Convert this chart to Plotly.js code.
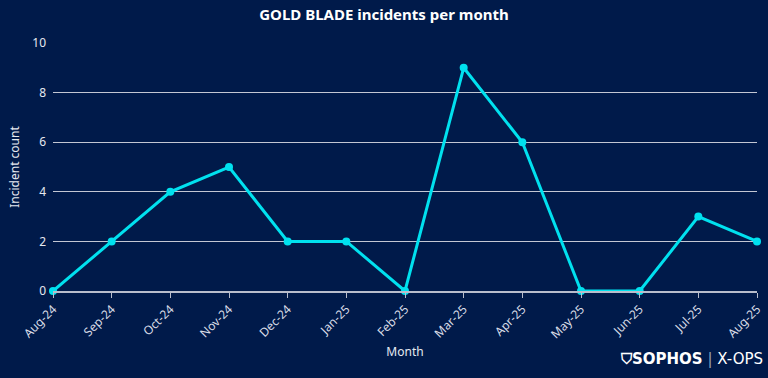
<!DOCTYPE html>
<html><head><meta charset="utf-8">
<script src="https://cdn.plot.ly/plotly-3.0.1.min.js"></script>
<style>body{margin:0;background:#001a4a;}#c{width:768px;height:378px;}</style>
</head><body><div id="c"></div>
<script>
const months = ["Aug-24","Sep-24","Oct-24","Nov-24","Dec-24","Jan-25","Feb-25","Mar-25","Apr-25","May-25","Jun-25","Jul-25","Aug-25"];
const incidents = [0,2,4,5,2,2,0,9,6,0,0,3,2];
const yTicks = [0,2,4,6,8,10];

const trace = {
  x: months, y: incidents, type: 'scatter', mode: 'lines+markers',
  line: {color: '#00e1ef', width: 3},
  marker: {color: '#00e1ef', size: 8},
  cliponaxis: false, hoverinfo: 'skip'
};
const layout = {
  width: 768, height: 378,
  paper_bgcolor: '#001a4a', plot_bgcolor: '#001a4a',
  margin: {l: 53, r: 11, t: 43, b: 87},
  font: {family: '"Noto Sans", sans-serif', color: '#e6e9f0', size: 12},
  title: {text: '<b>GOLD BLADE incidents per month</b>', x: 0.5, xanchor: 'center', y: 0.96, yanchor: 'middle',
          font: {size: 15, color: '#ffffff'}},
  xaxis: {
    type: 'category', range: [0, 12], tickangle: -45,
    showgrid: false, showline: true, linecolor: '#b8bdcc', linewidth: 1.5,
    ticks: 'outside', ticklen: 5, tickcolor: '#b8bdcc', tickwidth: 1,
    tickfont: {size: 12, color: '#d8dce6'},
    title: {text: 'Month', font: {size: 12, color: '#e6e9f0'}, standoff: 6},
    zeroline: false, fixedrange: true
  },
  yaxis: {
    range: [0, 10], tickvals: yTicks, ticktext: yTicks.map(String),
    showgrid: true, gridcolor: '#c3c7d3', gridwidth: 1,
    zeroline: false, showline: false, ticks: '', ticklabelstandoff: 6,
    tickfont: {size: 12, color: '#e6e9f0'},
    title: {text: 'Incident count', font: {size: 12, color: '#e6e9f0'}, standoff: 10}
  },
  showlegend: false,
  annotations: [{
    xref: 'paper', yref: 'paper', x: 1.012, y: -0.275, xanchor: 'right', yanchor: 'middle',
    text: '<b>⛉SOPHOS</b> <span style="color:#9aa3b8">|</span> X-OPS', showarrow: false,
    font: {size: 15, color: '#ffffff', family: '"DejaVu Sans", sans-serif'}
  }]
};
Plotly.newPlot('c', [trace], layout, {displayModeBar: false, staticPlot: true});
</script></body></html>
